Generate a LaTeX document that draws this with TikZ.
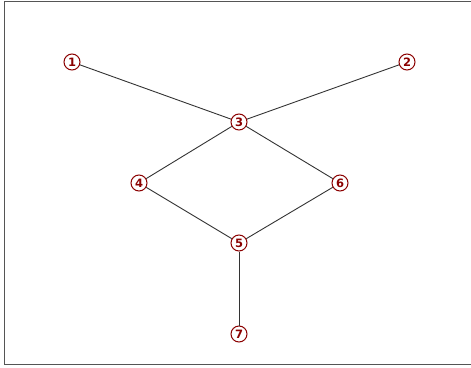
\documentclass[tikz,border=0pt]{standalone}
\usepackage{fontspec}
\setmainfont{DejaVu Sans}
\definecolor{nodered}{HTML}{8B0000}
\definecolor{edgegray}{HTML}{333333}
\definecolor{framegray}{HTML}{555555}
\begin{document}
\begin{tikzpicture}[x=1pt,y=-1pt,
  vert/.style={circle,draw=nodered,fill=white,line width=1pt,minimum size=16pt,inner sep=0pt,text=nodered,font=\fontsize{11.5}{11.5}\selectfont\bfseries},
  edge/.style={draw=edgegray,line width=0.9pt}]
\useasboundingbox (0,0) rectangle (471,367);
\draw[framegray,line width=1.3pt] (473,1.5) -- (4.5,1.5) -- (4.5,364.5) -- (473,364.5);
\node[vert] (n1) at (72,62) {1};
\node[vert] (n2) at (407,62) {2};
\node[vert] (n3) at (239,122) {3};
\node[vert] (n4) at (139,183) {4};
\node[vert] (n6) at (340,183) {6};
\node[vert] (n5) at (239,243) {5};
\node[vert] (n7) at (239,334) {7};
\path[edge] (n1) -- (n3);
\path[edge] (n2) -- (n3);
\path[edge] (n3) -- (n4);
\path[edge] (n3) -- (n6);
\path[edge] (n4) -- (n5);
\path[edge] (n6) -- (n5);
\path[edge] (n5) -- (n7);
\end{tikzpicture}
\end{document}
